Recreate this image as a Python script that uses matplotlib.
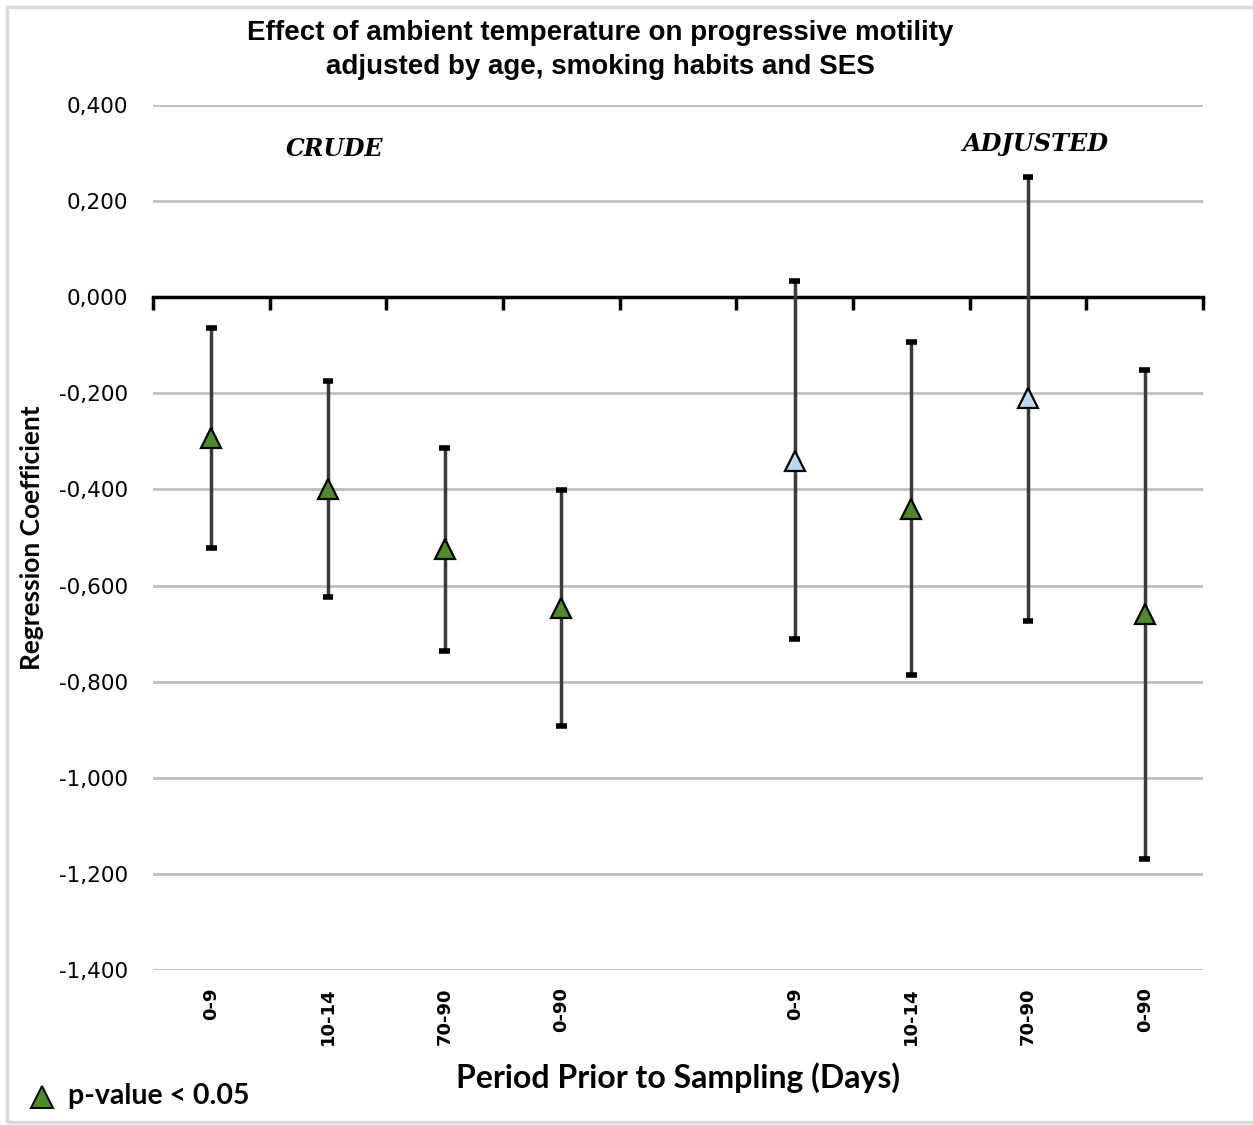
# モジュールインポート-------------------------------------------------------
import numpy as np
import matplotlib.pyplot as plt
from matplotlib.patches import Rectangle
import matplotlib.transforms as mtransforms

# データ---------------------------------------------------------------------
periods = ['0-9', '10-14', '70-90', '0-90']
crude_coef = [-0.293, -0.400, -0.524, -0.647]
crude_low = [-0.522, -0.624, -0.737, -0.893]
crude_high = [-0.065, -0.175, -0.314, -0.402]
crude_sig = [True, True, True, True]

adj_coef = [-0.341, -0.441, -0.210, -0.660]
adj_low = [-0.712, -0.787, -0.674, -1.169]
adj_high = [0.033, -0.094, 0.250, -0.152]
adj_sig = [False, True, False, True]

yticks = [0.4, 0.2, 0.0, -0.2, -0.4, -0.6, -0.8, -1.0, -1.2, -1.4]

green = '#4F8A2C'
light_blue = '#BDD7EE'

# 図の作成-------------------------------------------------------------------
W, H = 1253, 1125
fig = plt.figure(figsize=(W / 100, H / 100), dpi=100)
ax = fig.add_axes([153 / W, 1 - 970 / H, 1050 / W, 865 / H])

# 枠線
fig.patches.append(Rectangle((7 / W, 3 / H), 1260 / W, 1115 / H, transform=fig.transFigure,
                             fill=False, edgecolor='#D9D9D9', linewidth=2.5))

# x位置（4 + 空白 + 4）
x_crude = np.arange(len(periods))
x_adj = np.arange(len(periods)) + len(periods) + 1
xs = np.concatenate([x_crude, x_adj])
coef = np.array(crude_coef + adj_coef)
low = np.array(crude_low + adj_low)
high = np.array(crude_high + adj_high)
sig = crude_sig + adj_sig
labels = periods + periods

# 誤差棒
ax.vlines(xs, low, high, color='#3A3A3A', linewidth=2.5, zorder=3)
ax.hlines(np.concatenate([low, high]), np.concatenate([xs, xs]) - 0.045,
          np.concatenate([xs, xs]) + 0.045, color='black', linewidth=4, zorder=3)

# マーカー
for x, c, s in zip(xs, coef, sig):
    ax.plot(x, c, marker='^', markersize=15, markerfacecolor=green if s else light_blue,
            markeredgecolor='black', markeredgewidth=1.6, zorder=4, linestyle='none')

# 軸設定
ax.set_xlim(-0.5, 8.5)
ax.set_ylim(-1.4, 0.4)
ax.set_yticks(yticks)
ax.set_yticklabels([f'{v:.3f}'.replace('.', ',') for v in yticks], fontsize=15.5)
ax.tick_params(axis='y', length=0, pad=18)
ax.grid(axis='y', color='#BFBFBF', linewidth=2)
ax.set_axisbelow(True)
for side in ['top', 'right', 'left']:
    ax.spines[side].set_visible(False)
ax.spines['bottom'].set_position(('data', 0))
ax.spines['bottom'].set_linewidth(2.5)
ax.spines['bottom'].set_zorder(2.5)
ax.set_xticks(np.arange(-0.5, 9.0, 1.0))
ax.set_xticklabels([])
ax.tick_params(axis='x', direction='out', length=9, width=2.5, color='black')

# カテゴリラベル
trans = mtransforms.blended_transform_factory(ax.transData, ax.transAxes)
for x, lab in zip(xs, labels):
    ax.text(x, -0.02, lab, transform=trans, rotation=90, ha='center', va='top',
            fontsize=13, fontweight='bold', family='DejaVu Sans')

# テキスト
fig.text(600 / W, 1 - 50 / H, 'Effect of ambient temperature on progressive motility\n'
         'adjusted by age, smoking habits and SES', ha='center', va='center',
         fontsize=20, fontweight='bold', family='Liberation Sans', linespacing=1.35)
fig.text(335 / W, 1 - 149 / H, 'CRUDE', ha='center', va='center', fontsize=17,
         fontweight='bold', style='italic', family='DejaVu Serif')
fig.text(1036 / W, 1 - 144 / H, 'ADJUSTED', ha='center', va='center', fontsize=17.3,
         fontweight='bold', style='italic', family='DejaVu Serif')
fig.text(32 / W, 1 - 538 / H, 'Regression Coefficient', rotation=90, ha='center',
         va='center', fontsize=19, fontweight='bold', family='Lato')
fig.text(678 / W, 1 - 1078 / H, 'Period Prior to Sampling (Days)', ha='center',
         va='center', fontsize=23, fontweight='bold', family='Lato')

# 凡例
fig.lines.append(plt.Line2D([42 / W], [1 - 1097 / H], marker='^', markersize=16,
                            markerfacecolor=green, markeredgecolor='black',
                            markeredgewidth=1.4, transform=fig.transFigure))
fig.text(68 / W, 1 - 1096 / H, 'p-value < 0.05', ha='left', va='center',
         fontsize=20.5, fontweight='bold', family='Lato')

fig.savefig('out.png', dpi=100)
